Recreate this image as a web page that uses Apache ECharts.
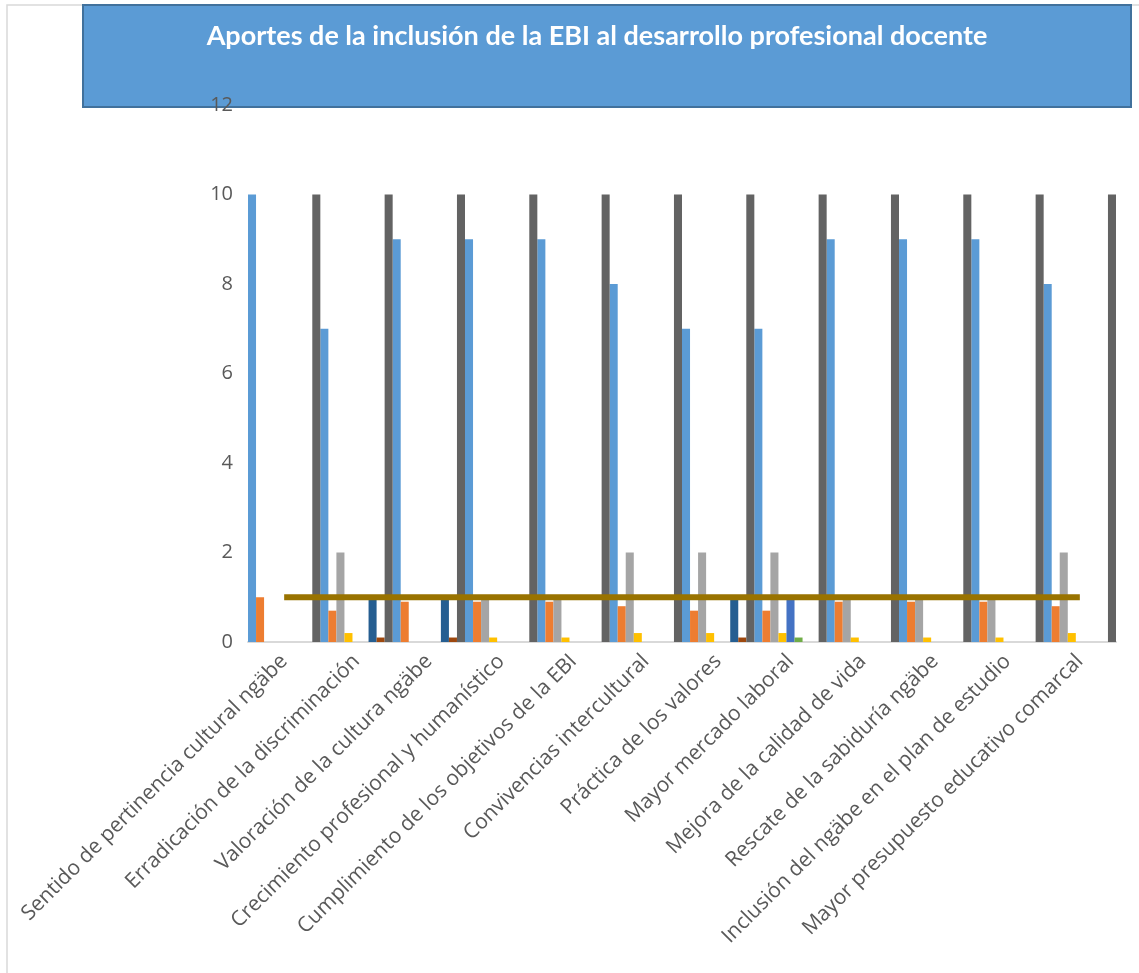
<!DOCTYPE html>
<html>
<head>
<meta charset="utf-8">
<script src="https://cdn.jsdelivr.net/npm/echarts@6/dist/echarts.min.js"></script>
<style>html,body{margin:0;padding:0;background:#fff;}#c{width:1139px;height:973px;}</style>
</head>
<body>
<div id="c"></div>
<script>
const titleText = 'Aportes de la inclusión de la EBI al desarrollo profesional docente';
const categories = [
  'Sentido de pertinencia cultural ngäbe',
  'Erradicación de la discriminación',
  'Valoración de la cultura ngäbe',
  'Crecimiento profesional y humanístico',
  'Cumplimiento de los objetivos de la EBI',
  'Convivencias intercultural',
  'Práctica de los valores',
  'Mayor mercado laboral',
  'Mejora de la calidad de vida',
  'Rescate de la sabiduría ngäbe',
  'Inclusión del ngäbe en el plan de estudio',
  'Mayor presupuesto educativo comarcal'
];
const yTicks = [0, 2, 4, 6, 8, 10, 12];
const s1 = [10, 7, 9, 9, 9, 8, 7, 7, 9, 9, 9, 8];
const s2 = [1, 0.7, 0.9, 0.9, 0.9, 0.8, 0.7, 0.7, 0.9, 0.9, 0.9, 0.8];
const s3 = [0, 2, 0, 1, 1, 2, 2, 2, 1, 1, 1, 2];
const s4 = [0, 0.2, 0, 0.1, 0.1, 0.2, 0.2, 0.2, 0.1, 0.1, 0.1, 0.2];
const s5 = [0, 0, 0, 0, 0, 0, 0, 1, 0, 0, 0, 0];
const s6 = [0, 0, 0, 0, 0, 0, 0, 0.1, 0, 0, 0, 0];
const s7 = [0, 1, 1, 0, 0, 0, 1, 0, 0, 0, 0, 0];
const s8 = [0, 0.1, 0.1, 0, 0, 0, 0.1, 0, 0, 0, 0, 0];
const s9 = [10, 10, 10, 10, 10, 10, 10, 10, 10, 10, 10, 10];
const lineValues = [1, 1, 1, 1, 1, 1, 1, 1, 1, 1, 1, 1];

const barData = [s1, s2, s3, s4, s5, s6, s7, s8, s9];
const barColors = ['#5B9BD5', '#ED7D31', '#A5A5A5', '#FFC000', '#4472C4', '#70AD47', '#255E91', '#9E480E', '#636363'];

const chart = echarts.init(document.getElementById('c'), null, {renderer: 'canvas'});
const series = barData.map((d, i) => ({
  name: 'Serie ' + (i + 1),
  type: 'bar',
  data: d,
  barGap: '0%',
  barCategoryGap: '0%',
  itemStyle: {color: barColors[i]},
  z: 2
}));
series.push({
  name: 'Línea',
  type: 'line',
  data: lineValues,
  symbol: 'none',
  lineStyle: {color: '#997300', width: 6, cap: 'butt'},
  z: 5
});

chart.setOption({
  animation: false,
  backgroundColor: '#ffffff',
  graphic: [
    {type: 'rect', z: -5, shape: {x: 7, y: 5, width: 1160, height: 1000},
     style: {fill: 'none', stroke: '#D9D9D9', lineWidth: 1.5}},
    {type: 'rect', z: -4, shape: {x: 83, y: 5, width: 1048, height: 102},
     style: {fill: '#5B9BD5', stroke: '#41719C', lineWidth: 2}},
    {type: 'text', z: -3, x: 597, y: 36,
     style: {text: titleText, fill: '#ffffff', font: 'bold 27px Lato', textAlign: 'center', textVerticalAlign: 'middle'}}
  ],
  grid: {left: 248, right: 23, top: 105, bottom: 331, containLabel: false},
  xAxis: {
    type: 'category',
    data: categories,
    boundaryGap: true,
    axisLine: {show: true, lineStyle: {color: '#D9D9D9', width: 2}},
    axisTick: {show: false},
    axisLabel: {rotate: 45, interval: 0, margin: 16, color: '#595959', fontFamily: 'Open Sans', fontSize: 21}
  },
  yAxis: {
    type: 'value',
    min: yTicks[0],
    max: yTicks[yTicks.length - 1],
    interval: 2,
    z: 10,
    axisLine: {show: false},
    axisTick: {show: false},
    splitLine: {show: false},
    axisLabel: {margin: 15, color: '#595959', fontFamily: 'Open Sans', fontSize: 20}
  },
  series: series
});
</script>
</body>
</html>
